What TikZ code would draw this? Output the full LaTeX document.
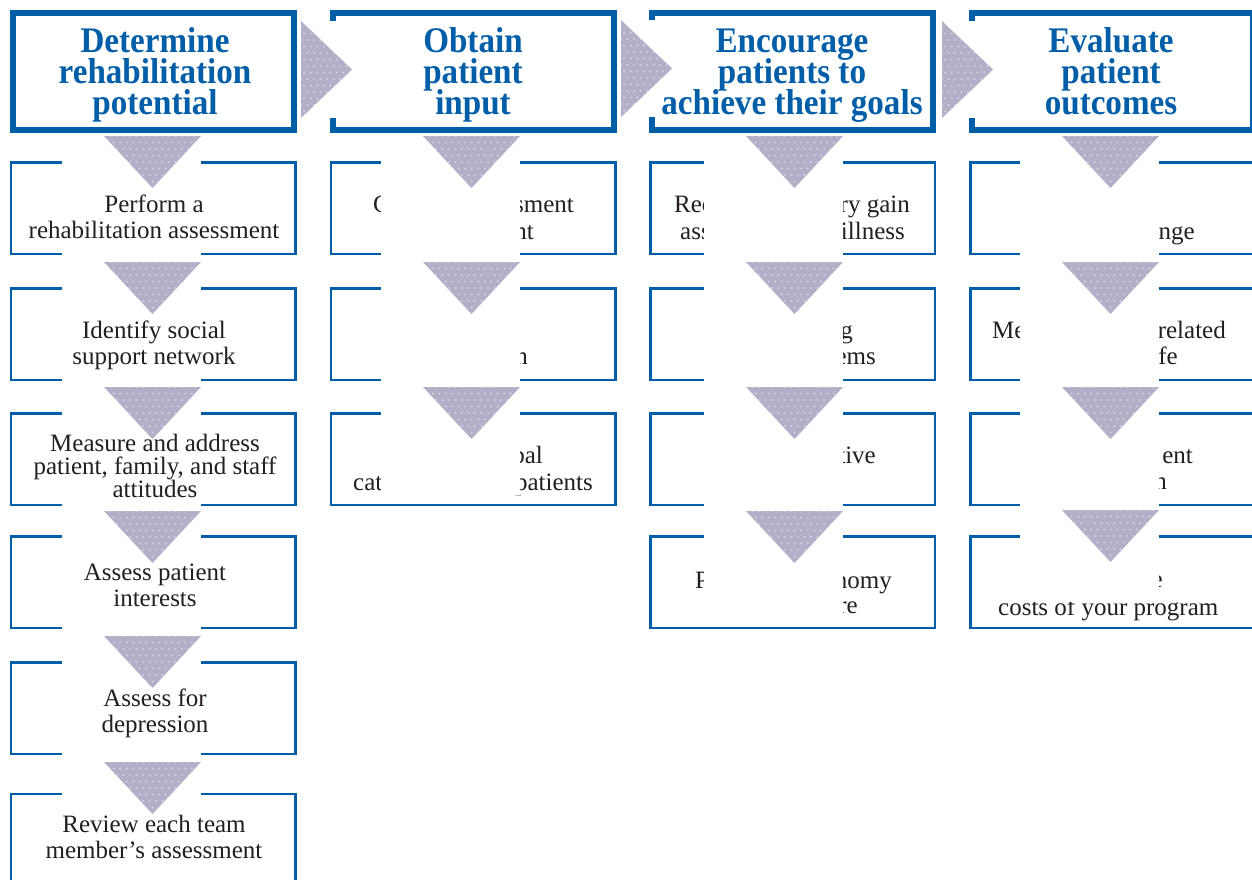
\documentclass[tikz,border=0pt]{standalone}
\usepackage{fontspec}
\setmainfont{Liberation Serif}
\newfontfamily\headfont[FakeStretch=0.92]{Liberation Serif}
\usetikzlibrary{calc}

\definecolor{rehabblue}{RGB}{0,94,168}
\definecolor{inkgray}{RGB}{35,31,32}
\definecolor{trifill}{RGB}{180,175,200}
\definecolor{tridot}{RGB}{212,210,226}

% centred lines whose baseline is the baseline of the first line
\newcommand\txtlines[1]{\vtop{\lineskiplimit=-100pt\halign{\hfil##\hfil\cr#1\crcr}}}

\tikzset{
  textured/.style={fill=trifill, path picture={
    \foreach \j in {0,...,16}{\foreach \i in {0,...,16}{
      \fill[tridot] ([xshift={(\i+0.5*mod(\j,2))*6.5pt}, yshift={\j*6.5pt}]path picture bounding box.south west) circle (1.2pt);
    }}
  }},
  pics/downtri/.style={code={
    \fill[white] (-42,-12) rectangle (97,#1);
    \path[textured] (0,0) -- (97,0) -- (48.5,52) -- cycle;
  }},
  pics/downtri/.default=108,
  pics/righttri/.style={code={
    \fill[white] (0,0) rectangle (51,97);
    \path[textured] (0,0) -- (51,48.5) -- (0,97) -- cycle;
  }},
}

\begin{document}
\begin{tikzpicture}[x=1pt,y=-1pt,
  bodytext/.style={font=\fontsize{25}{26.5}\selectfont, text=inkgray, inner sep=0pt},
  threeline/.style={font=\fontsize{25}{23}\selectfont, text=inkgray, inner sep=0pt},
  headtext/.style={font=\headfont\bfseries\fontsize{36}{31.2}\selectfont, text=rehabblue, inner sep=0pt},
  stepbox/.style={draw=rehabblue, line width=2.5pt, minimum width=284.5pt, minimum height=91.5pt, inner sep=0pt},
  headbox/.style={draw=rehabblue, line width=6pt, minimum width=281pt, minimum height=117pt, inner sep=0pt},
]
\useasboundingbox (0,0) rectangle (1252,879);
\clip (0,0) rectangle (1252,879);
\fill[white] (0,0) rectangle (1252,879);

% ---- step boxes ----
\node[stepbox] (a1) at (153,208) {};
\node[stepbox] (a2) at (153,334) {};
\node[stepbox] (a3) at (153,459) {};
\node[stepbox] (a4) at (153,582) {};
\node[stepbox] (a5) at (153,708) {};
\node[stepbox, minimum height=110pt] (a6) at (153,849) {};

\node[stepbox] (b1) at (473,208) {};
\node[stepbox] (b2) at (473,334) {};
\node[stepbox] (b3) at (473,459) {};

\node[stepbox] (c1) at (792.5,208) {};
\node[stepbox] (c2) at (792.5,334) {};
\node[stepbox] (c3) at (792.5,459) {};
\node[stepbox] (c4) at (792.5,582) {};

\node[stepbox] (d1) at (1112.5,208) {};
\node[stepbox] (d2) at (1112.5,334) {};
\node[stepbox] (d3) at (1112.5,459) {};
\node[stepbox] (d4) at (1112.5,582) {};

% ---- texts lying under the arrow strips ----
\node[bodytext, anchor=base west] (b1l) at (373,212) {C};
\node[bodytext, anchor=base east] (b1r) at (574,212) {sment};
\node[bodytext, anchor=base east] (b1s) at (534,239) {nt};
\node[bodytext, anchor=base east] (b2s) at (528,364) {n};
\node[bodytext, anchor=base east] (b3r) at (543,463) {bal};
\node[bodytext, anchor=base west] (b3l) at (353,490) {cat};
\node[bodytext, anchor=base east] (b3s) at (593,490) {patients};

\node[bodytext, anchor=base west] (c1l) at (674,212) {Rec};
\node[bodytext, anchor=base east] (c1r) at (910,212) {ry gain};
\node[bodytext, anchor=base west] (c1m) at (680,239) {ass};
\node[bodytext, anchor=base east] (c1s) at (905,239) {illness};
\node[bodytext, anchor=base east] (c2r) at (853,338) {g};
\node[bodytext, anchor=base east] (c2s) at (876,364) {ems};
\node[bodytext, anchor=base east] (c3r) at (876,463) {tive};
\node[bodytext, anchor=base west] (c4l) at (695,588) {P};
\node[bodytext, anchor=base east] (c4r) at (892,588) {nomy};
\node[bodytext, anchor=base east] (c4s) at (858,613) {re};

\node[bodytext, anchor=base east] (d1s) at (1195,239) {nge};
\node[bodytext, anchor=base west] (d2l) at (992,338) {Me};
\node[bodytext, anchor=base east] (d2r) at (1226,338) {related};
\node[bodytext, anchor=base east] (d2s) at (1178,364) {fe};
\node[bodytext, anchor=base east] (d3r) at (1193,463) {ent};
\node[bodytext, anchor=base east] (d3s) at (1167,489) {n};
\node[bodytext, anchor=base east] (d4r) at (1163,587) {e};
\node[bodytext, anchor=base west] (d4s) at (998,615) {costs of your program};

% ---- downward arrows with their white strips ----
\foreach \t in {136,262,387,511,636,762} \pic at (104,\t) {downtri};
\foreach \t in {136,262,387} \pic at (423,\t) {downtri};
\foreach \t in {136,262,387} \pic at (746,\t) {downtri};
\pic at (746,511) {downtri=115};
\foreach \t in {136,262,387} \pic at (1062,\t) {downtri};
\pic at (1062,510) {downtri=92};

% ---- column headers ----
\node[headbox] (h1) at (153.5,71.5) {};
\node[headbox] (h2) at (473,71.5) {};
\node[headbox] (h3) at (792,71.5) {};
\node[headbox] (h4) at (1112.5,71.5) {};

\pic at (301,21) {righttri};
\pic at (621,20) {righttri};
\pic at (942,21) {righttri};

\node[headtext, anchor=base] (h1t) at (155,52) {\txtlines{Determine\cr rehabilitation\cr potential}};
\node[headtext, anchor=base] (h2t) at (473,52) {\txtlines{Obtain\cr patient\cr input}};
\node[headtext, anchor=base] (h3t) at (792,52) {\txtlines{Encourage\cr patients to\cr achieve their goals}};
\node[headtext, anchor=base] (h4t) at (1111,52) {\txtlines{Evaluate\cr patient\cr outcomes}};

% ---- first column texts, above the strips ----
\node[bodytext, anchor=base] (a1t) at (154,212) {\txtlines{Perform a\cr rehabilitation assessment}};
\node[bodytext, anchor=base] (a2t) at (154,338) {\txtlines{Identify social\cr support network}};
\node[threeline, anchor=base] (a3t) at (155,451) {\txtlines{Measure and address\cr patient, family, and staff\cr attitudes}};
\node[bodytext, anchor=base] (a4t) at (155,580) {\txtlines{Assess patient\cr interests}};
\node[bodytext, anchor=base] (a5t) at (155,706) {\txtlines{Assess for\cr depression}};
\node[bodytext, anchor=base] (a6t) at (154,832) {\txtlines{Review each team\cr member’s assessment}};
\end{tikzpicture}
\end{document}
